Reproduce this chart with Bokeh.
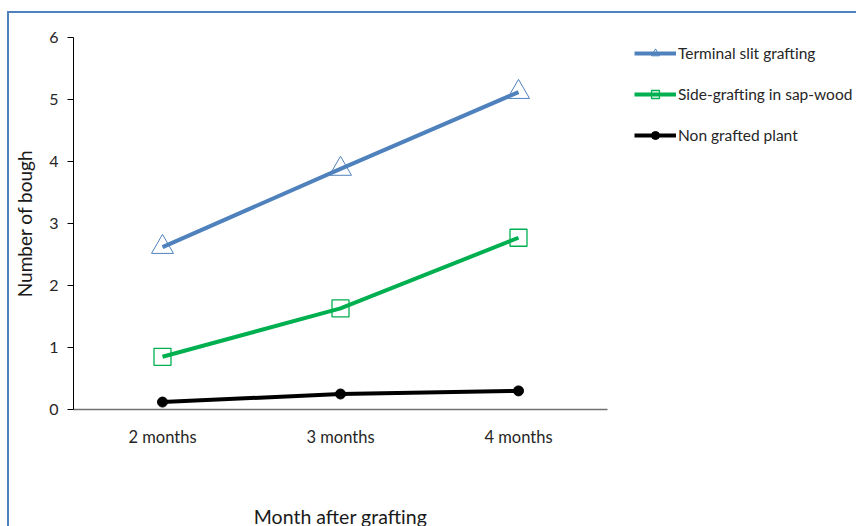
from bokeh.plotting import figure
from bokeh.models import FactorRange, Range1d, Legend, LegendItem, FixedTicker
from bokeh.embed import file_html
from bokeh.resources import INLINE

months = ["2 months", "3 months", "4 months"]
terminal = [2.62, 3.88, 5.12]
side = [0.85, 1.63, 2.77]
non_grafted = [0.12, 0.25, 0.30]
y_ticks = [0, 1, 2, 3, 4, 5, 6]

BLUE = "#4f81bd"
GREEN = "#00b050"
BLACK = "#000000"
FONT = "Lato"

p = figure(
    frame_width=534, frame_height=372,
    x_range=FactorRange(*months, range_padding=0),
    y_range=Range1d(0, 6),
    output_backend="svg", toolbar_location=None,
    min_border_left=64, min_border_right=0, min_border_top=24, min_border_bottom=115,
)
p.styles = {"border-top": "2px solid " + BLUE, "border-left": "2px solid " + BLUE,
            "margin-top": "11px", "margin-left": "7px"}
p.outline_line_color = None
p.grid.grid_line_color = None
p.background_fill_color = "white"
p.border_fill_color = "white"

r1l = p.line(months, terminal, line_color=BLUE, line_width=4)
r1m = p.scatter(months, terminal, marker="triangle", size=22, fill_color=None, line_color=BLUE, line_width=1)
r2l = p.line(months, side, line_color=GREEN, line_width=4)
r2m = p.scatter(months, side, marker="square", size=17, fill_color=None, line_color=GREEN, line_width=1.3)
r3l = p.line(months, non_grafted, line_color=BLACK, line_width=4)
r3m = p.scatter(months, non_grafted, marker="circle", size=10, fill_color=BLACK, line_color=BLACK)

# axes
ya = p.yaxis[0]
ya.ticker = FixedTicker(ticks=y_ticks)
ya.major_tick_out = 6
ya.major_tick_in = 0
ya.minor_tick_line_color = None
ya.axis_line_color = BLACK
ya.major_tick_line_color = BLACK
ya.major_label_text_font = FONT
ya.major_label_text_font_size = "16px"
ya.major_label_text_color = "#262626"
ya.major_label_standoff = 9
ya.axis_label = "Number of bough"
ya.axis_label_text_font = FONT
ya.axis_label_text_font_size = "19px"
ya.axis_label_text_font_style = "normal"
ya.axis_label_text_color = "#1a1a1a"
ya.axis_label_standoff = 10

xa = p.xaxis[0]
xa.major_tick_out = 0
xa.major_tick_in = 0
xa.minor_tick_line_color = None
xa.axis_line_color = "#707070"
xa.axis_line_width = 1.5
xa.major_label_text_font = FONT
xa.major_label_text_font_size = "16.5px"
xa.major_label_text_color = "#262626"
xa.major_label_standoff = 17
xa.axis_label = "Month after grafting"
xa.axis_label_text_font = FONT
xa.axis_label_text_font_size = "19.5px"
xa.axis_label_text_font_style = "normal"
xa.axis_label_text_color = "#1a1a1a"
xa.axis_label_standoff = 55

legend = Legend(
    items=[
        LegendItem(label="Terminal slit grafting", renderers=[r1l, r1m]),
        LegendItem(label="Side-grafting in sap-wood", renderers=[r2l, r2m]),
        LegendItem(label="Non grafted plant", renderers=[r3l, r3m]),
    ],
    location=(27, 264),
    glyph_width=42, glyph_height=20, label_standoff=2, spacing=21,
    label_text_font=FONT, label_text_font_size="15.5px", label_text_color="#262626",
    border_line_color=None, background_fill_alpha=0, padding=0, margin=0,
)
p.add_layout(legend, "right")

open("out.html", "w").write(file_html(p, INLINE))
